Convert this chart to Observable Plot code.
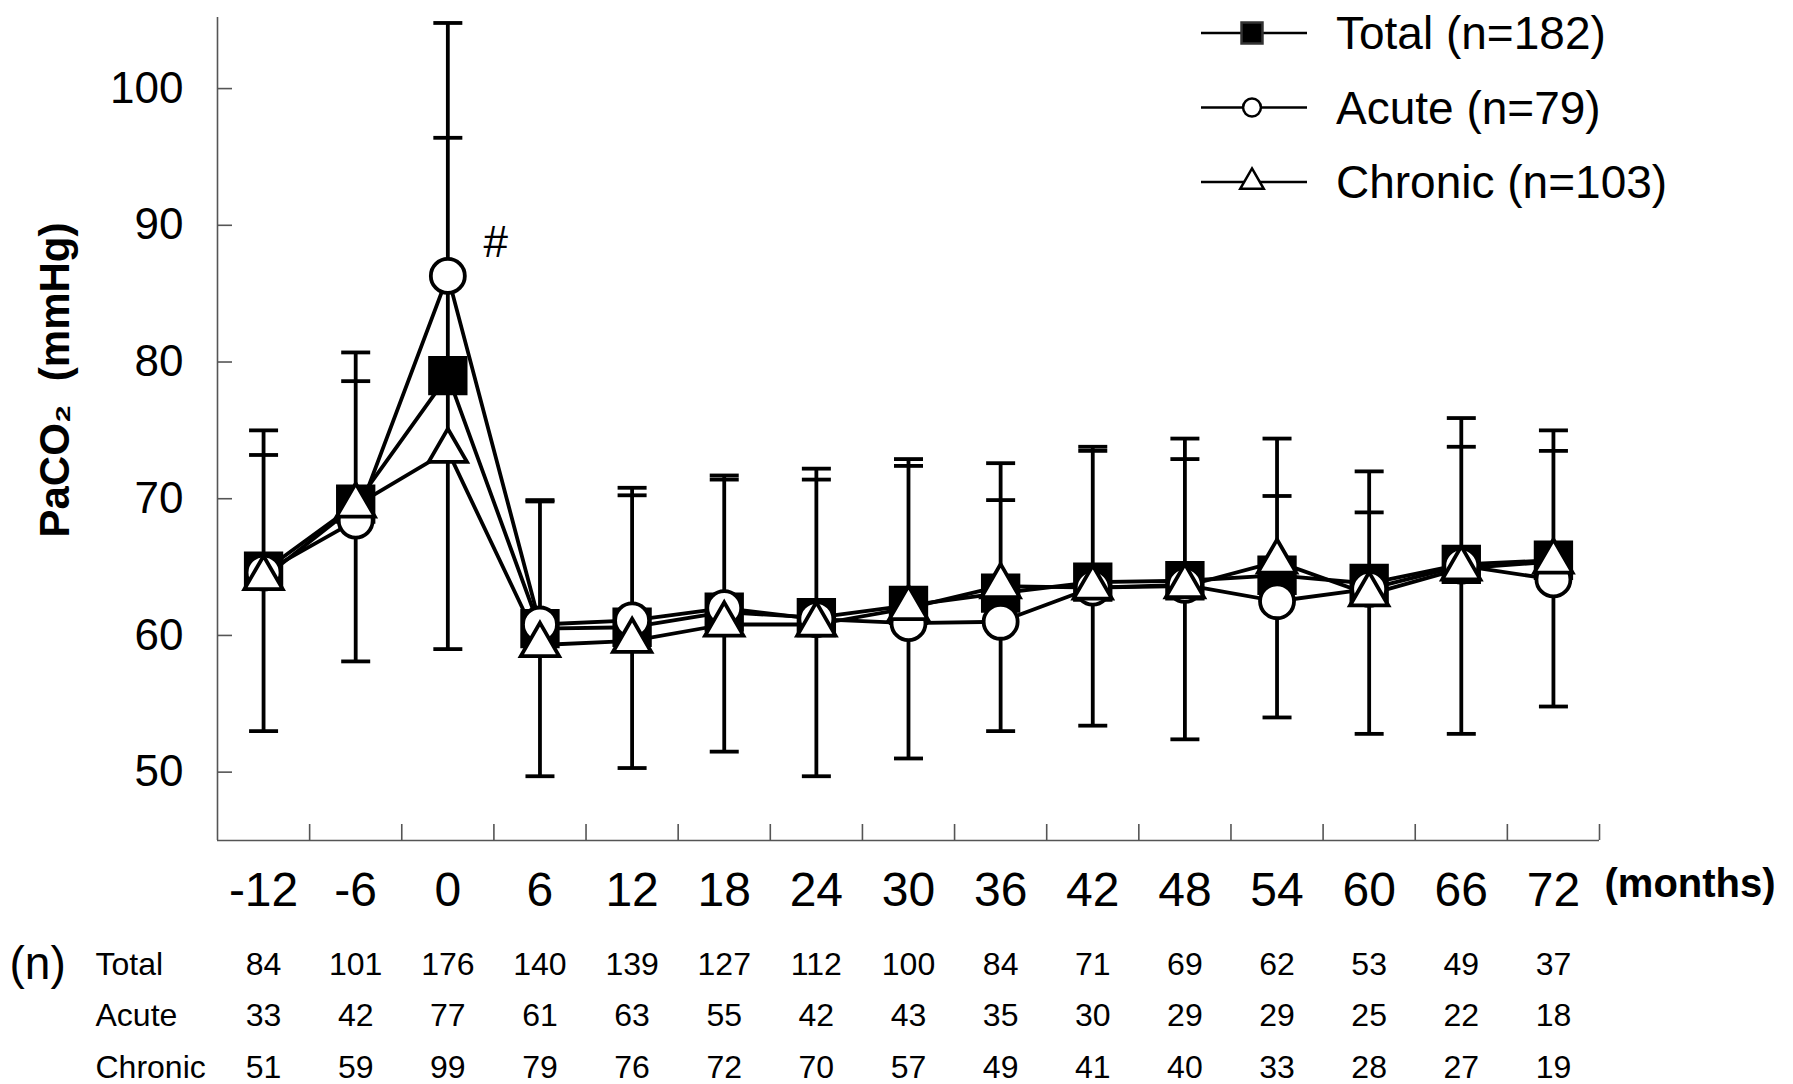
<!DOCTYPE html>
<html>
<head>
<meta charset="utf-8">
<script src="https://cdn.jsdelivr.net/npm/d3@7"></script>
<script src="https://cdn.jsdelivr.net/npm/@observablehq/plot@0.6"></script>
<style>
  html, body { margin: 0; padding: 0; background: #fff; }
  #chart { width: 1793px; height: 1084px; }
</style>
</head>
<body>
<div id="chart"></div>
<script>
// ---------------- data ----------------
const months = [-12, -6, 0, 6, 12, 18, 24, 30, 36, 42, 48, 54, 60, 66, 72];

const totalMean   = [64.7, 69.6, 79.0, 60.5, 60.6, 61.7, 61.3, 62.2, 63.1, 63.9, 64.0, 64.4, 63.8, 65.2, 65.5];
const acuteMean   = [64.6, 68.4, 86.3, 60.8, 61.1, 62.0, 61.2, 60.9, 61.0, 63.5, 63.7, 62.5, 63.4, 65.1, 64.1];
const chronicMean = [64.2, 69.5, 73.5, 59.3, 59.6, 60.8, 60.8, 62.0, 63.6, 63.5, 63.6, 65.4, 63.0, 64.9, 65.4];

// whisker ends (two upper caps and one lower cap per time point)
const errUpper1 = [75.0, 80.7, 104.8, 69.9, 70.8, 71.7, 72.2, 72.9, 72.6, 73.8, 74.4, 74.4, 72.0, 75.9, 75.0];
const errUpper2 = [73.2, 78.6, 96.4, 69.8, 70.25, 71.4, 71.4, 72.4, 69.9, 73.5, 72.9, 70.2, 69.0, 73.8, 73.5];
const errLower  = [53.0, 58.1, 59.0, 49.7, 50.3, 51.5, 49.7, 51.0, 53.0, 53.4, 52.4, 54.0, 52.8, 52.8, 54.8];

// numbers of patients per time point
const nTotal   = [84, 101, 176, 140, 139, 127, 112, 100, 84, 71, 69, 62, 53, 49, 37];
const nAcute   = [33, 42, 77, 61, 63, 55, 42, 43, 35, 30, 29, 29, 25, 22, 18];
const nChronic = [51, 59, 99, 79, 76, 72, 70, 57, 49, 41, 40, 33, 28, 27, 19];
const nRowLabels = ["Total", "Acute", "Chronic"];

const yTicks = [50, 60, 70, 80, 90, 100];
const xDomain = [-15, 75];
const yDomain = [45, 105.2];
const legendLabels = ["Total (n=182)", "Acute (n=79)", "Chronic (n=103)"];
const yTitle = "PaCO\u2082\u00a0 (mmHg)";
const xUnit = "(months)";
const sigMark = "#";

// ---------------- layout ----------------
const W = 1793, H = 1084;
const mL = 217, mR = 194, mT = 17, mB = 244;
const plotW = W - mL - mR, plotH = H - mT - mB;
const FONT = "'Liberation Sans', Arial, Helvetica, sans-serif";
const axisColor = "#555";
const LW = 3.8;

// ---------------- derived tables ----------------
const rows = months.map((m, i) => ({
  month: m, total: totalMean[i], acute: acuteMean[i], chronic: chronicMean[i],
  hi: Math.max(errUpper1[i], errUpper2[i]), lo: errLower[i]
}));
const seriesRows = key => rows.map(r => ({month: r.month, value: r[key], series: key}));
const lineRows = [...seriesRows("total"), ...seriesRows("acute"), ...seriesRows("chronic")];
const capRows = months.flatMap((m, i) => [
  {month: m, v: errUpper1[i]}, {month: m, v: errUpper2[i]}, {month: m, v: errLower[i]}
]);
const boundaries = months.map(m => m + 3); // band edges between time points
const capSymbol = {draw(ctx) { ctx.moveTo(-14.5, 0); ctx.lineTo(14.5, 0); }};

const nTables = [nTotal, nAcute, nChronic];
const rowDy = [124, 175, 227];

const marks = [
  // axes lines and ticks
  Plot.ruleX([xDomain[0]], {stroke: axisColor, strokeWidth: 1.6}),
  Plot.ruleY([yDomain[0]], {stroke: axisColor, strokeWidth: 1.6}),
  Plot.ruleX(boundaries, {stroke: axisColor, strokeWidth: 1.6, insetTop: plotH - 16}),
  Plot.ruleY(yTicks, {stroke: axisColor, strokeWidth: 1.6, insetRight: plotW - 15}),
  // tick labels
  Plot.text(yTicks, {y: d => d, frameAnchor: "left", dx: -34, textAnchor: "end", lineAnchor: "middle", fontSize: 44, fill: "black"}),
  Plot.text(months, {x: d => d, frameAnchor: "bottom", lineAnchor: "middle", dy: 50, fontSize: 48, fill: "black"}),
  Plot.text([xUnit], {frameAnchor: "bottom-right", lineAnchor: "middle", dx: 5, dy: 44, textAnchor: "start", fontSize: 40, fontWeight: "bold"}),
  Plot.text([yTitle], {frameAnchor: "left", dx: -162, dy: -49, rotate: -90, textAnchor: "middle", lineAnchor: "middle", fontSize: 42, fontWeight: "bold"}),
  // n table
  Plot.text(["(n)"], {frameAnchor: "bottom-left", lineAnchor: "middle", dx: -208, dy: 124, textAnchor: "start", fontSize: 46}),
  ...nRowLabels.map((lab, k) => Plot.text([lab], {frameAnchor: "bottom-left", lineAnchor: "middle", dx: -122, dy: rowDy[k], textAnchor: "start", fontSize: 32})),
  ...nTables.map((tbl, k) => Plot.text(months, {x: d => d, text: (d, i) => String(tbl[i]), frameAnchor: "bottom", lineAnchor: "middle", dy: rowDy[k], fontSize: 32})),
  // error bars
  Plot.ruleX(rows, {x: "month", y1: "lo", y2: "hi", stroke: "black", strokeWidth: LW}),
  Plot.dot(capRows, {x: "month", y: "v", symbol: capSymbol, r: 5, fill: "none", stroke: "black", strokeWidth: LW}),
  // series lines
  Plot.line(lineRows, {x: "month", y: "value", z: "series", stroke: "black", strokeWidth: LW}),
  // markers
  Plot.dot(rows, {x: "month", y: "total", symbol: "square", r: 20.5, fill: "black", stroke: "black", strokeWidth: 3}),
  Plot.dot(rows, {x: "month", y: "acute", symbol: "circle", r: 17, fill: "white", stroke: "black", strokeWidth: LW}),
  Plot.dot(rows, {x: "month", y: "chronic", symbol: "triangle", r: 14.2, fill: "white", stroke: "black", strokeWidth: LW}),
  // significance mark
  Plot.text(rows.filter(r => r.month === 0), {x: "month", y: "acute", text: () => sigMark, dx: 48, dy: -33, fontSize: 44})
];

const svg = Plot.plot({
  width: W, height: H,
  marginLeft: mL, marginRight: mR, marginTop: mT, marginBottom: mB,
  x: {domain: xDomain, axis: null},
  y: {domain: yDomain, axis: null},
  style: {fontFamily: FONT, background: "white", color: "black", overflow: "visible"},
  marks
});

// legend (top right)
const lg = d3.select(svg).append("g").attr("font-family", FONT);
const legendSymbols = [
  {type: d3.symbolSquare, size: 440, fill: "black", stroke: "#333", sw: 2.5},
  {type: d3.symbolCircle, size: 250, fill: "white", stroke: "black", sw: 2.5},
  {type: d3.symbolTriangle, size: 240, fill: "white", stroke: "black", sw: 2.5}
];
legendLabels.forEach((lab, i) => {
  const y = 33 + i * 74.5;
  lg.append("line").attr("x1", 1201).attr("x2", 1307).attr("y1", y).attr("y2", y)
    .attr("stroke", "black").attr("stroke-width", 2.5);
  const s = legendSymbols[i];
  lg.append("path").attr("d", d3.symbol(s.type, s.size)())
    .attr("transform", `translate(1252,${y})`)
    .attr("fill", s.fill).attr("stroke", s.stroke).attr("stroke-width", s.sw);
  lg.append("text").attr("x", 1336).attr("y", y).attr("dy", "0.35em")
    .attr("text-anchor", "start")
    .attr("font-size", 46).attr("fill", "black").text(lab);
});

document.getElementById("chart").appendChild(svg);
</script>
</body>
</html>
